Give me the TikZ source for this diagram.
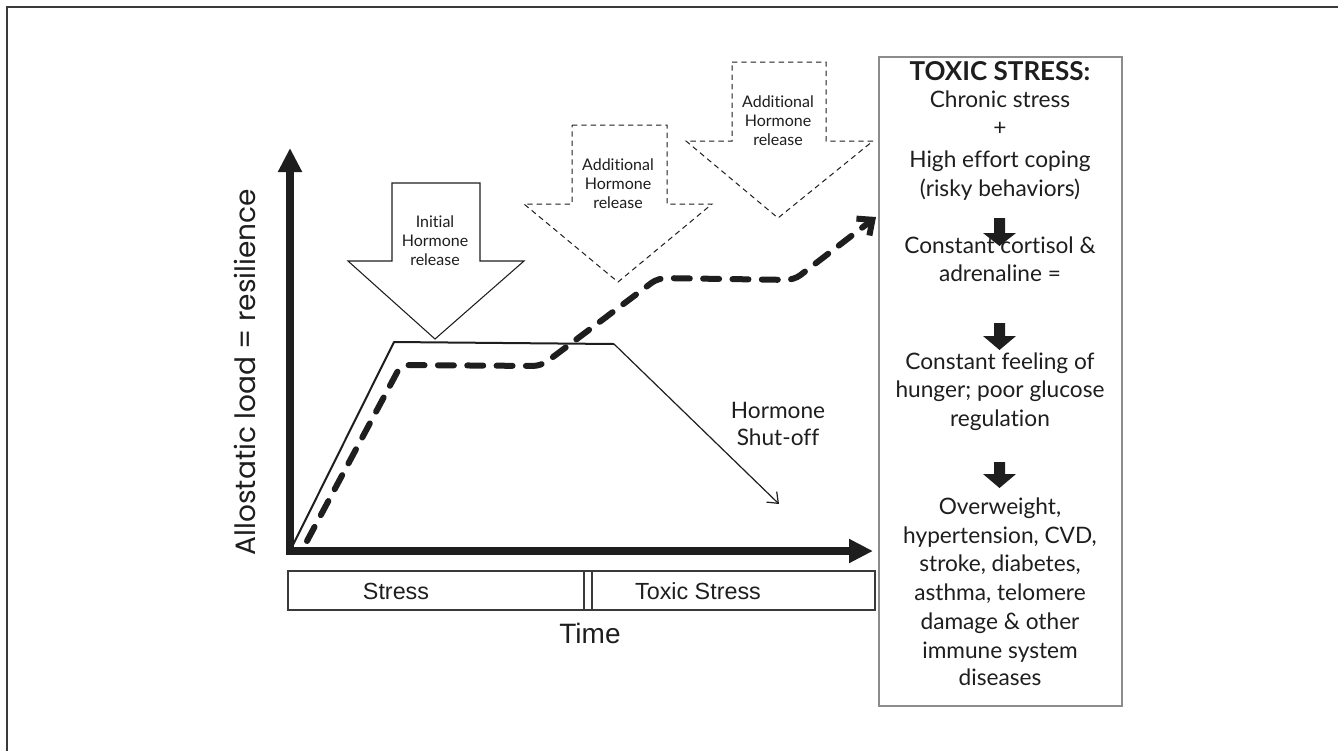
\documentclass[tikz,border=0pt]{standalone}
\usepackage{fontspec}
\setmainfont{Lato}[Ligatures=NoCommon]
\newfontfamily\arialf{Liberation Sans}
\newfontfamily\geof{Poppins}
\usetikzlibrary{arrows.meta}
\definecolor{ink}{HTML}{1E1E1E}
\definecolor{framegray}{HTML}{3A3A3A}
\definecolor{boxgray}{HTML}{8C8C8C}
\begin{document}
\begin{tikzpicture}[x=0.75pt,y=-0.75pt,
  axis/.style={line width=6pt, ink, line join=miter},
  hollowarrow/.style={draw=ink, fill=white, line width=0.8pt, line join=miter},
  dashedarrow/.style={draw=ink, fill=white, line width=0.75pt, dash pattern=on 4pt off 3pt},
  blockdown/.style={fill=ink, draw=none},
  smalltxt/.style={font=\fontsize{12}{14.3}\selectfont, align=center, inner sep=0pt, text=ink},
  boxtxt/.style={font=\fontsize{17}{20}\selectfont, inner sep=0pt, text=ink, text height=0.72em, text depth=0.22em},
  bartxt/.style={font=\arialf\fontsize{17.5}{20}\selectfont, inner sep=0pt, text=ink},
  tline/.style={draw=framegray, line width=0.8pt}
]
\useasboundingbox (0,0) rectangle (1338,751);
% outer frame (top and left edges)
\draw[framegray, line width=1.2pt] (7,751) -- (7,7) -- (1338,7);

% hollow block arrows
\path[hollowarrow] (392,183) -- (480,183) -- (480,261) -- (524,261) -- (435,339) -- (348,261) -- (392,261) -- cycle;
\node[smalltxt] (init) at (435,241) {Initial\\Hormone\\release};
\path[dashedarrow] (572,125) -- (667,125) -- (667,204) -- (712,204) -- (618,282) -- (524,204) -- (572,204) -- cycle;
\node[smalltxt] (add1) at (618,184) {Additional\\Hormone\\release};
\path[dashedarrow] (732,62) -- (826,62) -- (826,141) -- (873,141) -- (778,218) -- (686,141) -- (732,141) -- cycle;
\node[smalltxt] (add2) at (778,121) {Additional\\Hormone\\release};

% axes
\coordinate (O) at (290,551);
\coordinate (ytip) at (290,148);
\coordinate (xtip) at (873,551);
\draw[axis, {Triangle[width=17pt,length=18pt]}-{Triangle[width=17pt,length=18pt]}] (ytip) -- (O) -- (xtip);

% solid response
\coordinate (s1) at (394,342);
\coordinate (s2) at (614,344);
\coordinate (s3) at (779,504);
\draw[ink, line width=1.5pt, line join=round] (O) -- (s1) -- (s2);
\draw[ink, line width=0.9pt, -{Straight Barb[length=7pt,width=11pt]}] (s2) -- (s3);

% dashed toxic response
\coordinate (d0) at (307,541);
\coordinate (d1) at (401,365);
\coordinate (d2) at (541,366);
\coordinate (d3) at (658,278);
\coordinate (d4) at (794,280);
\coordinate (d5) at (876,217);
\draw[ink, line width=4.5pt, line cap=round, dash pattern=on 12pt off 10pt, rounded corners=6pt,
  -{Straight Barb[length=9pt,width=16pt]}] (d0) -- (d1) -- (d2) -- (d3) -- (d4) -- (d5);

\node[font=\fontsize{17}{20}\selectfont, align=center, inner sep=0pt, text=ink] (shut) at (778,424) {Hormone\\Shut-off};

% time bar
\draw[tline] (288,571) rectangle (875,610);
\draw[tline] (584,571) -- (584,610);
\draw[tline] (592,571) -- (592,610);
\node[bartxt] (stress) at (396,591) {Stress};
\node[bartxt] (toxic) at (698,591) {Toxic Stress};
\node[font=\arialf\fontsize{21}{25}\selectfont, inner sep=0pt, text=ink] (time) at (590,633) {Time};

% y label
\node[font=\geof\fontsize{21}{25}\selectfont, rotate=90, inner sep=0pt, text=ink] (ylab) at (245,372) {Allostatic load = resilience};

% right box
\draw[draw=boxgray, line width=0.8pt] (879,57) rectangle (1122,706);
\node[boxtxt, font=\bfseries\fontsize{19.5}{22}\selectfont] (t0) at (1000,77) {TOXIC STRESS:};
\node[boxtxt] (t1) at (1000,104) {Chronic stress};
\node[boxtxt] (t2) at (1000,132) {+};
\node[boxtxt] (t3) at (1000,164) {High effort coping};
\node[boxtxt] (t4) at (1000,193) {(risky behaviors)};
\node[boxtxt] (t5) at (1000,250) {Constant cortisol \&};
\node[boxtxt] (t6) at (1000,278) {adrenaline =};
\node[boxtxt] (t7) at (1000,366) {Constant feeling of};
\node[boxtxt] (t8) at (1000,394) {hunger; poor glucose};
\node[boxtxt] (t9) at (1000,423) {regulation};
\node[boxtxt] (t10) at (1000,511) {Overweight,};
\node[boxtxt] (t11) at (1000,540) {hypertension, CVD,};
\node[boxtxt] (t12) at (1000,568) {stroke, diabetes,};
\node[boxtxt] (t13) at (1000,597) {asthma, telomere};
\node[boxtxt] (t14) at (1000,626) {damage \& other};
\node[boxtxt] (t15) at (1000,655) {immune system};
\node[boxtxt] (t16) at (1000,682) {diseases};

% black down arrows
\foreach \ty/\hy/\py in {218/233/246, 323/336/350, 462/474/488}{
  \path[blockdown] (994,\ty) -- (1005,\ty) -- (1005,\hy) -- (1016,\hy) -- (999.5,\py) -- (983,\hy) -- (994,\hy) -- cycle;
}
\end{tikzpicture}
\end{document}
